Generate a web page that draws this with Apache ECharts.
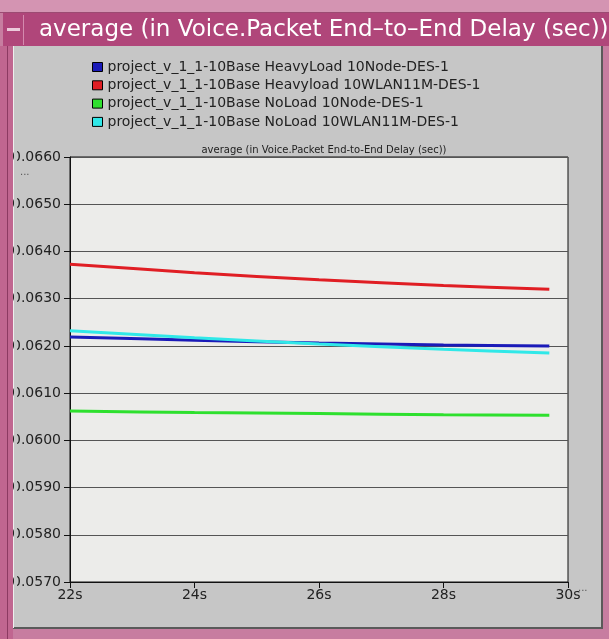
<!DOCTYPE html>
<html>
<head>
<meta charset="utf-8">
<script src="https://cdn.jsdelivr.net/npm/echarts@6/dist/echarts.min.js"></script>
<style>
html,body{margin:0;padding:0;background:#c77da0;}
#chart{width:609px;height:639px;}
</style>
</head>
<body>
<div id="chart"></div>
<script>
var seriesNames = [
  'project_v_1_1-10Base HeavyLoad 10Node-DES-1',
  'project_v_1_1-10Base Heavyload 10WLAN11M-DES-1',
  'project_v_1_1-10Base NoLoad 10Node-DES-1',
  'project_v_1_1-10Base NoLoad 10WLAN11M-DES-1'
];
var timeS = [22, 24, 26, 28, 29.7];
var heavyNode = [0.06219, 0.06212, 0.06206, 0.06202, 0.06200];
var heavyWlan = [0.06373, 0.06355, 0.06340, 0.06328, 0.06320];
var noNode = [0.06062, 0.06059, 0.06057, 0.06054, 0.06053];
var noWlan = [0.06232, 0.06217, 0.06204, 0.06193, 0.06185];
var seriesColors = ['#1a1ab8', '#e01e24', '#2ee02e', '#30e8e8'];
var yTicks = [0.057, 0.058, 0.059, 0.060, 0.061, 0.062, 0.063, 0.064, 0.065, 0.066];
var xTicks = [22, 24, 26, 28, 30];
var windowTitle = 'average (in Voice.Packet End\u2013to\u2013End Delay (sec))';
var plotTitle = 'average (in Voice.Packet End-to-End Delay (sec))';

var allValues = [heavyNode, heavyWlan, noNode, noWlan];
function pairs(vals){ return timeS.map(function(t,i){ return [t, vals[i]]; }); }

var chart = echarts.init(document.getElementById('chart'));
var FONT = 'DejaVu Sans';
chart.setOption({
  backgroundColor: '#c77da0',
  animation: false,
  graphic: [
    {type:'rect', z:-100, shape:{x:0,y:0,width:609,height:13}, style:{fill:'#d494b2'}},
    {type:'rect', z:-99, shape:{x:0,y:12,width:609,height:1}, style:{fill:'#9c4a72'}},
    {type:'rect', z:-99, shape:{x:3,y:13,width:606,height:33}, style:{fill:'#b0467a'}},
    {type:'rect', z:-98, shape:{x:7,y:28,width:13,height:3}, style:{fill:'#eccadb'}},
    {type:'rect', z:-98, shape:{x:23,y:15,width:1,height:30}, style:{fill:'#d48aae'}},
    {type:'text', z:-97, style:{x:39, y:30, text:windowTitle, fill:'#ffffff', font:'23px "DejaVu Sans"', textVerticalAlign:'middle'}},
    {type:'rect', z:-99, shape:{x:13,y:46,width:589,height:582}, style:{fill:'#c6c6c6'}},
    {type:'rect', z:-98, shape:{x:601,y:46,width:2,height:582}, style:{fill:'#5a5a5a'}},
    {type:'rect', z:-98, shape:{x:13,y:627,width:590,height:2}, style:{fill:'#5a5a5a'}},
    {type:'rect', z:-98, shape:{x:13,y:46,width:1,height:582}, style:{fill:'#eeeeee'}},
    {type:'rect', z:100, shape:{x:0,y:46,width:13,height:593}, style:{fill:'#c06690'}},
    {type:'rect', z:101, shape:{x:7,y:46,width:1,height:593}, style:{fill:'#8c3a62'}},
    {type:'rect', z:100, shape:{x:14,y:140,width:3,height:460}, style:{fill:'#c6c6c6'}},
    {type:'text', z:50, style:{x:20, y:172, text:'...', fill:'#555', font:'10px "DejaVu Sans"', textVerticalAlign:'middle'}},
    {type:'text', z:50, style:{x:578, y:588, text:'...', fill:'#555', font:'10px "DejaVu Sans"', textVerticalAlign:'middle'}}
  ],
  title: {
    text: plotTitle,
    left: 319, top: 140, textAlign: 'center',
    textStyle: {fontFamily: FONT, fontSize: 10, fontWeight: 'normal', color: '#222'}
  },
  legend: {
    orient: 'vertical', left: 87, top: 53,
    itemWidth: 10, itemHeight: 9, itemGap: 0.3,
    icon: 'rect',
    textStyle: {fontFamily: FONT, fontSize: 14, color: '#222', lineHeight: 18},
    data: seriesNames.map(function(n,i){ return {name:n, itemStyle:{color:seriesColors[i], borderColor:'#000', borderWidth:1}}; })
  },
  grid: {left: 70, right: 41, top: 157, bottom: 57, show: true, backgroundColor: '#ececea', borderColor: '#111', borderWidth: 1},
  xAxis: {
    type: 'value', min: 22, max: 30, interval: 2,
    axisLine: {show: true, lineStyle: {color: '#111'}},
    axisTick: {show: true, length: 6, lineStyle: {color: '#111'}},
    axisLabel: {margin: 6, formatter: function(v){ return v + 's'; }, fontFamily: FONT, fontSize: 14, color: '#222'},
    splitLine: {show: false}
  },
  yAxis: {
    type: 'value', min: 0.057, max: 0.066, interval: 0.001,
    axisLine: {show: true, lineStyle: {color: '#111'}},
    axisTick: {show: true, length: 6, lineStyle: {color: '#111'}},
    axisLabel: {margin: 9, formatter: function(v){ return v.toFixed(4); }, fontFamily: FONT, fontSize: 14, color: '#222'},
    splitLine: {show: true, lineStyle: {color: '#555', width: 1}}
  },
  series: seriesNames.map(function(n,i){
    return {
      name: n, type: 'line', data: pairs(allValues[i]), showSymbol: false, smooth: 0.3,
      lineStyle: {color: seriesColors[i], width: 3}, itemStyle: {color: seriesColors[i]}
    };
  })
});
</script>
</body>
</html>
